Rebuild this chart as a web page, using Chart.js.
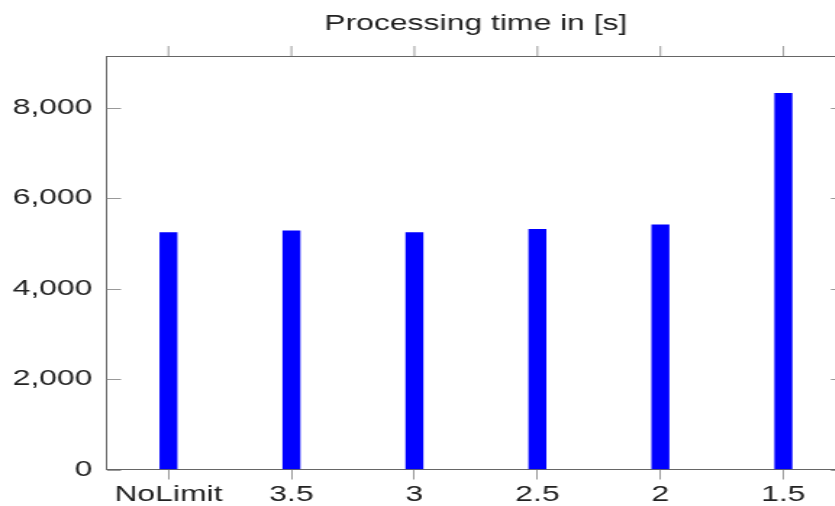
<!DOCTYPE html>
<html>
<head>
<meta charset="utf-8">
<script src="https://cdn.jsdelivr.net/npm/chart.js@4/dist/chart.umd.min.js"></script>
<style>
  html, body { margin: 0; padding: 0; overflow: hidden; background: #fff; }
  #chart { display: block; }
</style>
</head>
<body>
<canvas id="chart" width="590" height="506" style="width: 855px; height: 506px;"></canvas>
<script>
// datos
const categories = ['NoLimit', '3.5', '3', '2.5', '2', '1.5'];
const processingTimes = [5245, 5283, 5240, 5314, 5415, 8322];
const yTicks = [0, 2000, 4000, 6000, 8000];

const fontFamily = '"Liberation Sans", Arial, sans-serif';

// marcas interiores y borde superior/derecho, como en pgfplots
const frameTicks = {
    id: 'frameTicks',
    afterDraw(chart) {
        const { ctx, chartArea: a, scales } = chart;
        ctx.save();
        ctx.strokeStyle = '#666';
        ctx.lineWidth = 1;
        ctx.beginPath();
        ctx.moveTo(a.left, a.top + 0.5);
        ctx.lineTo(a.right, a.top + 0.5);
        ctx.moveTo(a.right - 0.5, a.top);
        ctx.lineTo(a.right - 0.5, a.bottom);
        ctx.stroke();

        ctx.strokeStyle = '#999';
        ctx.beginPath();
        categories.forEach((c, i) => {
            const x = scales.x.getPixelForValue(i);
            ctx.moveTo(x, a.top);
            ctx.lineTo(x, a.top - 10);
        });
        yTicks.forEach(v => {
            const y = Math.round(scales.y.getPixelForValue(v)) + 0.5;
            ctx.moveTo(a.left, y);
            ctx.lineTo(a.left + 9.7, y);
            ctx.moveTo(a.right, y);
            ctx.lineTo(a.right - 9.7, y);
        });
        ctx.stroke();
        ctx.restore();
    }
};

new Chart(document.getElementById('chart'), {
    type: 'bar',
    data: {
        labels: categories,
        datasets: [{
            label: 'Processing time',
            data: processingTimes,
            backgroundColor: '#0000ff',
            borderWidth: 0,
            barThickness: 11.7
        }]
    },
    options: {
        responsive: false,
        devicePixelRatio: 1,
        animation: false,
        layout: { padding: { top: 0, right: 7, bottom: 0, left: 0 } },
        plugins: {
            legend: { display: false },
            tooltip: { enabled: false },
            title: {
                display: true,
                fullSize: false,
                text: 'Processing time in [s]',
                color: '#222',
                font: { family: fontFamily, size: 22, weight: 'normal', lineHeight: 1.2 },
                padding: { top: 11, bottom: 18.6 }
            }
        },
        scales: {
            x: {
                afterFit(scale) { scale.height = 36.5; },
                grid: {
                    offset: false,
                    drawOnChartArea: false,
                    drawTicks: true,
                    tickLength: 10,
                    color: '#999'
                },
                border: { color: '#666', width: 1 },
                ticks: {
                    color: '#222',
                    padding: 2,
                    font: { family: fontFamily, size: 22 }
                }
            },
            y: {
                min: 0,
                max: 9150,
                afterFit(scale) { scale.width = 73.8; },
                afterBuildTicks(scale) {
                    scale.ticks = yTicks.map(v => ({ value: v }));
                },
                grid: { drawOnChartArea: false, drawTicks: false },
                border: { color: '#666', width: 1 },
                ticks: {
                    color: '#222',
                    padding: 10,
                    font: { family: fontFamily, size: 22 },
                    callback: v => v.toLocaleString('en-US')
                }
            }
        }
    },
    plugins: [frameTicks]
});
</script>
</body>
</html>
